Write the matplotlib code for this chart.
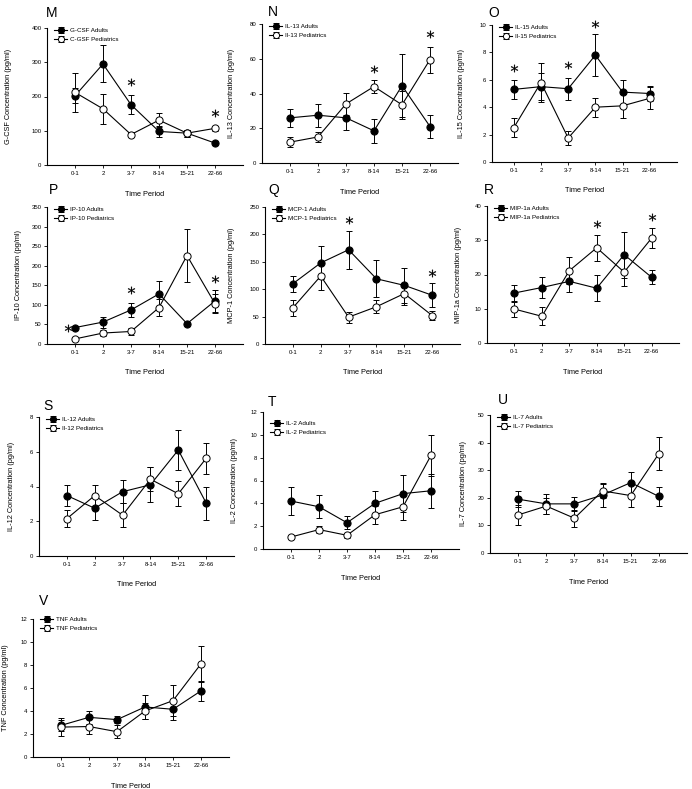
import matplotlib
matplotlib.use("Agg")
import matplotlib.pyplot as plt

plt.rcParams['font.family'] = ['Liberation Sans', 'DejaVu Sans']

periods = ['0-1', '2', '3-7', '8-14', '15-21', '22-66']

# G-CSF (M)
gcsf_adults = [202, 295, 176, 98, 93, 64]
gcsf_adults_err = [22, 54, 27, 15, 10, 6]
gcsf_peds = [212, 164, 89, 131, 93, 107]
gcsf_peds_err = [58, 43, 8, 20, 10, 8]
gcsf_star_x = [3, 6]
gcsf_star_y = [241, 151]

# IL-13 (N)
il13_adults = [26, 27.5, 26, 18.5, 44.5, 21]
il13_adults_err = [5, 6.5, 7, 7, 18, 6.5]
il13_peds = [12, 15, 34, 44, 33.5, 59.5]
il13_peds_err = [3, 3, 6.5, 3.5, 8, 7.5]
il13_star_x = [4, 6]
il13_star_y = [54, 74.5]

# IL-15 (O)
il15_adults = [5.3, 5.5, 5.35, 7.8, 5.1, 5.0]
il15_adults_err = [0.7, 1.0, 0.8, 1.55, 0.85, 0.55]
il15_peds = [2.5, 5.8, 1.75, 4.0, 4.1, 4.65]
il15_peds_err = [0.7, 1.4, 0.5, 0.7, 0.9, 0.8]
il15_star_x = [1, 3, 4]
il15_star_y = [6.85, 7.1, 10.1]

# IP-10 (P)
ip10_adults = [42, 56, 87, 128, 52, 110]
ip10_adults_err = [5, 14, 17, 33, 5, 28]
ip10_peds = [13, 28, 32, 93, 226, 103]
ip10_peds_err = [4, 8, 10, 22, 68, 25]
ip10_star_x = [0.75, 3, 6]
ip10_star_y = [42, 138, 165]

# MCP-1 (Q)
mcp1_adults = [110, 148, 172, 119, 107, 89]
mcp1_adults_err = [15, 30, 35, 34, 32, 22]
mcp1_peds = [66, 124, 49, 68, 92, 52]
mcp1_peds_err = [14, 25, 10, 12, 20, 8]
mcp1_star_x = [3, 6]
mcp1_star_y = [226, 130]

# MIP-1a (R)
mip1a_adults = [14.6, 16.2, 18.0, 16.0, 25.8, 19.2]
mip1a_adults_err = [2.2, 3.1, 3.2, 3.8, 6.7, 2.1]
mip1a_peds = [9.9, 7.8, 21.1, 27.8, 20.7, 30.6]
mip1a_peds_err = [2.2, 2.6, 4.0, 3.8, 4.0, 3.0]
mip1a_star_x = [4, 6]
mip1a_star_y = [34.8, 36.7]

# IL-12 (S)
il12_adults = [3.48, 2.75, 3.7, 4.1, 6.1, 3.05]
il12_adults_err = [0.6, 0.7, 0.65, 1.0, 1.15, 0.95]
il12_peds = [2.15, 3.48, 2.35, 4.42, 3.58, 5.62]
il12_peds_err = [0.5, 0.6, 0.7, 0.7, 0.72, 0.9]

# IL-2 (T)
il2_adults = [4.2, 3.7, 2.3, 4.0, 4.85, 5.1]
il2_adults_err = [1.2, 1.0, 0.55, 1.05, 1.6, 1.5]
il2_peds = [1.05, 1.7, 1.2, 3.0, 3.7, 8.2]
il2_peds_err = [0.15, 0.3, 0.2, 0.8, 1.15, 1.8]

# IL-7 (U)
il7_adults = [19.5, 17.8, 17.8, 21.0, 25.5, 20.5]
il7_adults_err = [3.0, 3.5, 2.5, 4.3, 4.0, 3.3]
il7_peds = [13.8, 17.0, 12.6, 22.5, 20.8, 36.0]
il7_peds_err = [3.5, 3.0, 3.0, 2.5, 4.3, 6.0]

# TNF (V)
tnf_adults = [2.75, 3.45, 3.25, 4.35, 4.15, 5.75]
tnf_adults_err = [0.5, 0.55, 0.3, 1.05, 0.9, 0.9]
tnf_peds = [2.6, 2.65, 2.2, 4.0, 4.9, 8.1]
tnf_peds_err = [0.75, 0.65, 0.55, 0.7, 1.35, 1.55]

W, H = 692, 789
fig = plt.figure(figsize=(W / 100, H / 100), dpi=100)

TICK_FS = 4.3
LAB_FS = 5.3
LEG_FS = 4.5


def panel(letter, letter_xy, box, x0, ymax, ystep, ylabel, leg_a, leg_p,
          adults, adults_err, peds, peds_err, star_x=None, star_y=None,
          leg_drop=0, ylab_off=26):
    left, right, top, bottom = box
    ax = fig.add_axes([left / W, 1 - bottom / H, (right - left) / W, (bottom - top) / H])
    xs = list(range(1, len(periods) + 1))
    ax.errorbar(xs, adults, yerr=adults_err, color='black', lw=0.8, elinewidth=0.7,
                capsize=2.2, capthick=0.7, marker='o', ms=5.2, mfc='black', mec='black',
                mew=0.7, label=leg_a, zorder=3)
    ax.errorbar(xs, peds, yerr=peds_err, color='black', lw=0.8, elinewidth=0.7,
                capsize=2.2, capthick=0.7, marker='o', ms=5.2, mfc='white', mec='black',
                mew=0.7, label=leg_p, zorder=4)
    if star_x:
        ax.plot(star_x, star_y, ls='none', marker='$*$', ms=5.3, color='black',
                mew=0.2, zorder=5, clip_on=False)
    ax.set_xlim(x0, 7)
    ax.set_ylim(0, ymax)
    ax.set_yticks([i * ystep for i in range(int(round(ymax / ystep)) + 1)])
    ax.set_xticks(xs)
    ax.set_xticklabels(periods)
    ax.tick_params(axis='both', labelsize=TICK_FS, length=2, width=0.6, pad=2)
    for s in ['top', 'right']:
        ax.spines[s].set_visible(False)
    for s in ['left', 'bottom']:
        ax.spines[s].set_linewidth(0.8)
    ax.set_xlabel('Time Period', fontsize=LAB_FS)
    ax.xaxis.set_label_coords(0.5, -25.5 / (bottom - top))
    ax.set_ylabel(ylabel, fontsize=LAB_FS)
    ax.yaxis.set_label_coords(-ylab_off / (right - left), 0.5)
    hx = 7 / (right - left)
    hy = 1 - (leg_drop) / (bottom - top)
    ax.legend(loc='upper left', bbox_to_anchor=(hx, hy), frameon=False,
              fontsize=LEG_FS, borderpad=0, borderaxespad=0, handlelength=2.1,
              handletextpad=0.5, labelspacing=0.55, markerscale=0.85)
    fig.text(letter_xy[0] / W, 1 - letter_xy[1] / H, letter, fontsize=10,
             ha='left', va='center')
    return ax


panel('M', (46, 13), (47, 243, 28, 165), 0, 400, 100, 'G-CSF Concentration (pg/ml)',
      'G-CSF Adults', 'C-GSF Pediatrics', gcsf_adults, gcsf_adults_err, gcsf_peds,
      gcsf_peds_err, gcsf_star_x, gcsf_star_y, leg_drop=0, ylab_off=35)
panel('N', (268, 12), (262, 458, 24, 163), 0, 80, 20, 'IL-13 Concentration (pg/ml)',
      'IL-13 Adults', 'Il-13 Pediatrics', il13_adults, il13_adults_err, il13_peds,
      il13_peds_err, il13_star_x, il13_star_y, leg_drop=0, ylab_off=27)
panel('O', (488, 13), (492, 677, 25, 162), 0.2, 10, 2, 'IL-15 Concentration (pg/ml)',
      'IL-15 Adults', 'Il-15 Pediatrics', il15_adults, il15_adults_err, il15_peds,
      il15_peds_err, il15_star_x, il15_star_y, leg_drop=0, ylab_off=27)
panel('P', (49, 190), (47, 243, 207, 344), 0, 350, 50, 'IP-10 Concentration (pg/ml)',
      'IP-10 Adults', 'IP-10 Pediatrics', ip10_adults, ip10_adults_err, ip10_peds,
      ip10_peds_err, ip10_star_x, ip10_star_y, leg_drop=0, ylab_off=25)
panel('Q', (268, 190), (265, 460, 207, 344), 0, 250, 50, 'MCP-1 Concentration (pg/ml)',
      'MCP-1 Adults', 'MCP-1 Pediatrics', mcp1_adults, mcp1_adults_err, mcp1_peds,
      mcp1_peds_err, mcp1_star_x, mcp1_star_y, leg_drop=0, ylab_off=30)
panel('R', (484, 190), (487, 679, 206, 343), 0, 40, 10, 'MIP-1a Concentration (pg/ml)',
      'MIP-1a Adults', 'MIP-1a Pediatrics', mip1a_adults, mip1a_adults_err, mip1a_peds,
      mip1a_peds_err, mip1a_star_x, mip1a_star_y, leg_drop=0, ylab_off=25)
panel('S', (43, 406), (39, 234, 417, 556), 0, 8, 2, 'IL-12 Concentration (pg/ml)',
      'IL-12 Adults', 'Il-12 Pediatrics', il12_adults, il12_adults_err, il12_peds,
      il12_peds_err, leg_drop=0, ylab_off=24)
panel('T', (268, 402), (263, 459, 412, 549), 0, 12, 2, 'IL-2 Concentration (pg/ml)',
      'IL-2 Adults', 'IL-2 Pediatrics', il2_adults, il2_adults_err, il2_peds,
      il2_peds_err, leg_drop=9, ylab_off=25)
panel('U', (498, 400), (490, 687, 415, 553), 0, 50, 10, 'IL-7 Concentration (pg/ml)',
      'IL-7 Adults', 'IL-7 Pediatrics', il7_adults, il7_adults_err, il7_peds,
      il7_peds_err, leg_drop=0, ylab_off=23)
panel('V', (39, 601), (33, 229, 619, 757), 0, 12, 2, 'TNF Concentration (pg/ml)',
      'TNF Adults', 'TNF Pediatrics', tnf_adults, tnf_adults_err, tnf_peds,
      tnf_peds_err, leg_drop=-2, ylab_off=24)

fig.savefig('out.png', dpi=100)
